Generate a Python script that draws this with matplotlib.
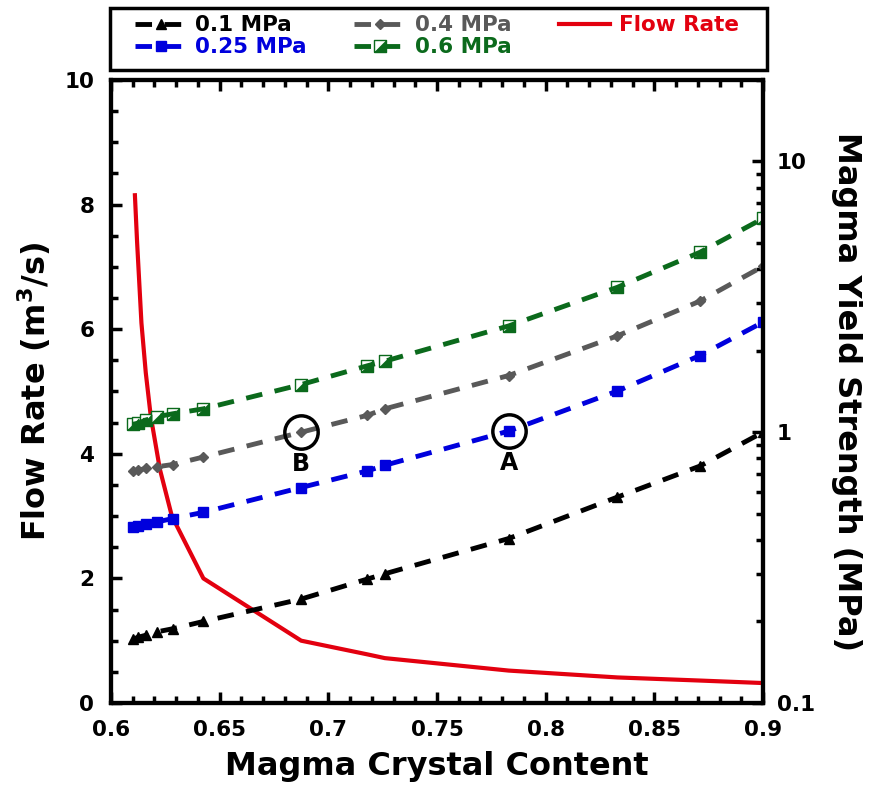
import numpy as np
import matplotlib
matplotlib.use("Agg")
import matplotlib.pyplot as plt
from matplotlib.patches import Rectangle
from matplotlib.legend_handler import HandlerTuple
from matplotlib.ticker import MultipleLocator, FixedLocator, FuncFormatter, LogLocator, NullFormatter

# -------------------------------
# datos
# -------------------------------
crystal = [0.610, 0.6126, 0.6161, 0.621, 0.6284, 0.6425, 0.6875,
           0.718, 0.726, 0.783, 0.833, 0.871, 0.900]

ys_01 = [0.172, 0.175, 0.178, 0.183, 0.188, 0.200, 0.242,
         0.287, 0.300, 0.405, 0.576, 0.750, 1.00]
ys_025 = [0.446, 0.450, 0.457, 0.466, 0.480, 0.506, 0.625,
          0.720, 0.755, 1.01, 1.42, 1.92, 2.55]
ys_04 = [0.720, 0.725, 0.735, 0.745, 0.760, 0.810, 1.00,
         1.155, 1.22, 1.62, 2.27, 3.05, 4.10]
ys_06 = [1.07, 1.08, 1.11, 1.14, 1.17, 1.22, 1.50,
         1.76, 1.83, 2.47, 3.43, 4.62, 6.16]

flow_x = [0.611, 0.612, 0.614, 0.616, 0.6183, 0.6225, 0.628, 0.6425,
          0.6875, 0.718, 0.726, 0.783, 0.833, 0.871, 0.900]
flow_q = [8.15, 7.4, 6.1, 5.3, 4.6, 3.75, 3.0, 2.0,
          1.0, 0.78, 0.72, 0.52, 0.41, 0.36, 0.32]

labels = ["0.1 MPa", "0.25 MPa", "0.4 MPa", "0.6 MPa", "Flow Rate"]

BLACK = "#000000"
BLUE = "#0000dd"
GRAY = "#595959"
GREEN = "#0b6a1c"
RED = "#e3000f"

plt.rcParams["font.family"] = "DejaVu Sans"
plt.rcParams["font.weight"] = "bold"

fig = plt.figure(figsize=(8.72, 7.92), dpi=100)
ax = fig.add_axes([0.1273, 0.1124, 0.7477, 0.7866])
ax2 = ax.twinx()

# ejes (antes de dibujar, la discontinua usa transData)
ax.set_xlim(0.6, 0.9)
ax.set_ylim(0, 10)
ax2.set_yscale("log")
ax2.set_ylim(0.1, 20)

LW = 3.5
DASH = (3.4, 2.6)


def dashed(a, xs, ys, color):
    # trazos solidos cortos a lo largo de la curva (en pixeles)
    pts = a.transData.transform(np.column_stack([xs, ys]))
    on = DASH[0] * LW * fig.dpi / 72
    off = DASH[1] * LW * fig.dpi / 72
    seg = np.hypot(*np.diff(pts, axis=0).T)
    cum = np.concatenate([[0], np.cumsum(seg)])
    inv = a.transData.inverted()

    def at(t):
        return [np.interp(t, cum, pts[:, 0]), np.interp(t, cum, pts[:, 1])]

    s = 0.0
    while s < cum[-1]:
        e = min(s + on, cum[-1])
        piece = [at(s)] + [list(p) for p, c in zip(pts, cum) if s < c < e] + [at(e)]
        d = inv.transform(np.array(piece))
        a.plot(d[:, 0], d[:, 1], color=color, lw=LW, solid_capstyle="butt",
               solid_joinstyle="round", zorder=3)
        s = e + off


# curva de caudal (eje izquierdo)
l_flow, = ax.plot(flow_x, flow_q, "-", color=RED, lw=3, zorder=3)

sq = [(-1, -1), (1, -1), (1, 1), (-1, 1), (-1, -1)]
tri = [(-1, -1), (1, -1), (1, 1), (-1, -1)]

handles = []
for yy, c, mk, ms in [(ys_01, BLACK, "^", 7.5), (ys_025, BLUE, "s", 7),
                      (ys_04, GRAY, "D", 5)]:
    ax2.plot(crystal, yy, ls="none", marker=mk, ms=ms, mfc=c, mec=c, zorder=2)
    dashed(ax2, crystal, yy, c)
    h, = ax2.plot([], [], color=c, lw=LW, ls=(0, DASH), marker=mk, ms=ms,
                  mfc=c, mec=c)
    handles.append(h)

ax2.plot(crystal, ys_06, ls="none", marker=sq, ms=8, mfc="white", mec=GREEN,
         mew=1, zorder=2)
ax2.plot(crystal, ys_06, ls="none", marker=tri, ms=8, mfc=GREEN, mec=GREEN,
         mew=0.5, zorder=2)
dashed(ax2, crystal, ys_06, GREEN)
h4, = ax2.plot([], [], color=GREEN, lw=LW, ls=(0, DASH), marker=sq, ms=8,
               mfc="white", mec=GREEN, mew=1)
h4b, = ax2.plot([], [], ls="none", marker=tri, ms=8, mfc=GREEN, mec=GREEN, mew=0.5)
l1, l2, l3 = handles

# puntos A y B
for xx, yy, lab in [(crystal[9], ys_025[9], "A"), (crystal[6], ys_04[6], "B")]:
    ax2.plot(xx, yy, "o", ms=24, mfc="none", mec="black", mew=2.5, zorder=6)
    ax2.annotate(lab, (xx, yy), xytext=(0, -23), textcoords="offset points",
                 ha="center", va="center", fontsize=17, fontweight="bold")

ax.xaxis.set_major_locator(FixedLocator([0.6, 0.65, 0.7, 0.75, 0.8, 0.85, 0.9]))
ax.xaxis.set_major_formatter(FuncFormatter(lambda v, p: f"{v:g}"))
ax.xaxis.set_minor_locator(MultipleLocator(0.01))
ax.yaxis.set_major_locator(MultipleLocator(2))
ax.yaxis.set_minor_locator(MultipleLocator(0.5))

ax2.yaxis.set_major_locator(FixedLocator([0.1, 1, 10]))
ax2.yaxis.set_major_formatter(FuncFormatter(lambda v, p: f"{v:g}"))
ax2.yaxis.set_minor_locator(LogLocator(base=10, subs=np.arange(2, 10)))
ax2.yaxis.set_minor_formatter(NullFormatter())

ax.tick_params(which="both", direction="in", width=2.5, top=True,
               labelsize=15.5, pad=12)
ax.tick_params(which="major", length=8)
ax.tick_params(which="minor", length=5)
ax2.tick_params(which="both", direction="in", width=2.5, labelsize=15.5, pad=10)
ax2.tick_params(which="major", length=8)
ax2.tick_params(which="minor", length=5)

for a in (ax, ax2):
    for s in a.spines.values():
        s.set_linewidth(3)

for t in ax.get_xticklabels() + ax.get_yticklabels() + ax2.get_yticklabels():
    t.set_fontweight("bold")

ax.set_xlabel("Magma Crystal Content", fontsize=23, fontweight="bold", labelpad=8)
ax.set_ylabel("Flow Rate (m$^3$/s)", fontsize=23, fontweight="bold", labelpad=8)
ax2.set_ylabel("Magma Yield Strength (MPa)", fontsize=23, fontweight="bold",
               rotation=270, labelpad=34)

# leyenda (caja dibujada aparte)
box = Rectangle((110 / 872, 1 - 70 / 792), 657 / 872, 62 / 792,
                transform=fig.transFigure, fill=False, lw=2.5, ec="black")
fig.patches.append(box)
leg = ax.legend([l1, l2, l3, (h4, h4b), l_flow], labels,
                handler_map={tuple: HandlerTuple(ndivide=1, pad=0)},
                ncol=3, loc="center", bbox_to_anchor=(0.5, 1.07),
                frameon=False, handlelength=2.4, handletextpad=0.4,
                labelspacing=0.1, columnspacing=2.2,
                prop={"weight": "bold", "size": 15.5})
for txt, c in zip(leg.get_texts(), [BLACK, BLUE, GRAY, GREEN, RED]):
    txt.set_color(c)

fig.savefig("out.png", dpi=100)
